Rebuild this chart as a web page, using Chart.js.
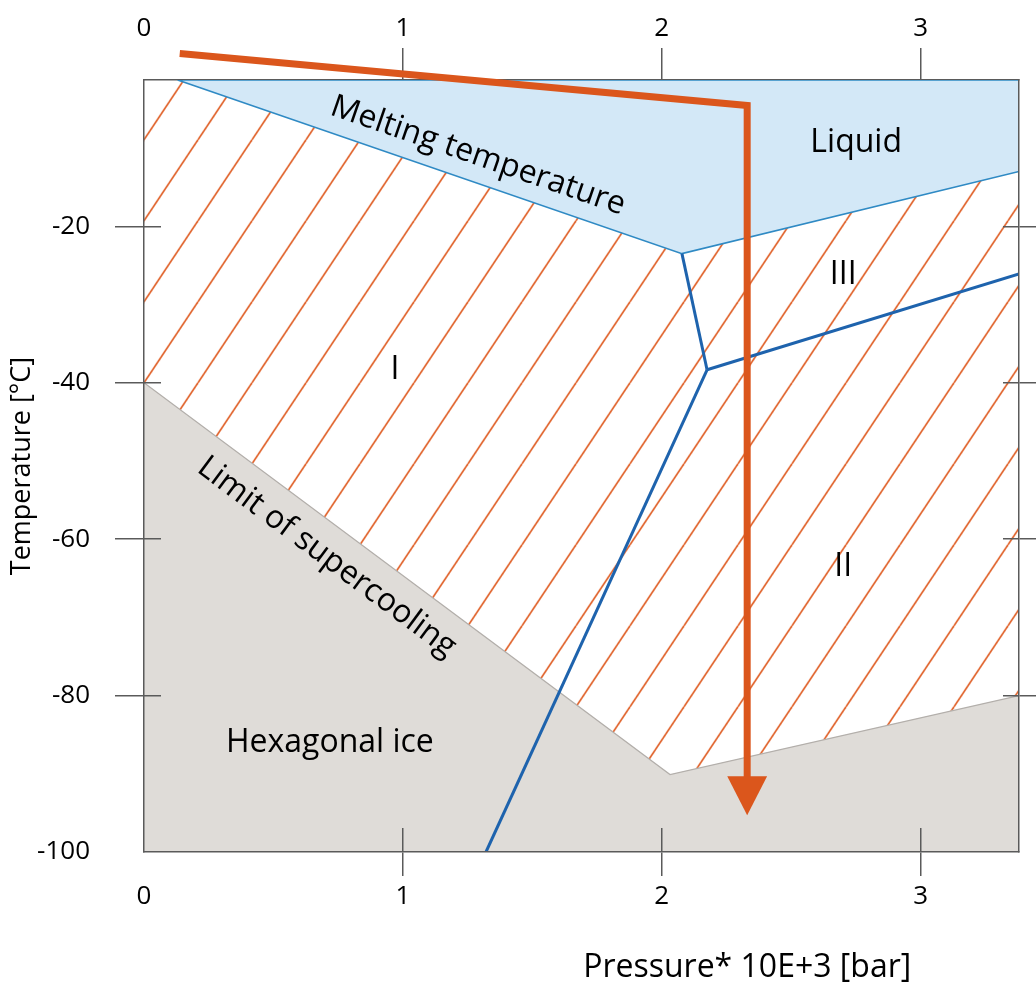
<!DOCTYPE html>
<html>
<head>
<meta charset="utf-8">
<title>Ice phase diagram</title>
<script src="https://cdn.jsdelivr.net/npm/chart.js@4.4.1/dist/chart.umd.min.js"></script>
<style>
  html, body { margin: 0; padding: 0; background: #fff; }
  #wrap { width: 1036px; height: 991px; position: relative; }
</style>
</head>
<body>
<div id="wrap"><canvas id="chart"></canvas></div>
<script>
// Ranges: pressure in 10^3 bar, temperature in °C
const pMin = 0, pMax = 3.38;
const tMin = -100, tMax = -1.3;
const pTicks = [0, 1, 2, 3];
const tTicks = [-100, -80, -60, -40, -20];

// Melting temperature (liquid / ice boundary)
const meltP = [0.13, 2.078, 3.38];
const meltT = [-1.3, -23.5, -13.0];

// Limit of supercooling (hexagonal ice boundary)
const superP = [0, 2.032, 3.38];
const superT = [-40, -90.1, -80];

// Boundaries between ice I, II and III
const iIIIP = [2.078, 2.175];
const iIIIT = [-23.5, -38.35];
const iiIIIP = [2.175, 3.38];
const iiIIIT = [-38.35, -26.1];
const iIIP = [2.175, 1.321];
const iIIT = [-38.35, -100];

// Orange path (compression then cooling) and its arrow head
const pathP = [0.138, 2.33, 2.33];
const pathT = [2.1, -4.55, -90.5];
const arrowP = [2.253, 2.407, 2.33];
const arrowT = [-90.3, -90.3, -95.3];

// Text labels in the diagram
const regionLabels = [
  { text: 'Liquid', p: 2.751, t: -9.3, angle: 0 },
  { text: 'III', p: 2.701, t: -26.2, angle: 0 },
  { text: 'I', p: 0.969, t: -38.35, angle: 0 },
  { text: 'II', p: 2.701, t: -63.6, angle: 0 },
  { text: 'Hexagonal ice', p: 0.718, t: -86.0, angle: 0 },
  { text: 'Melting temperature', p: 1.29, t: -11.0, angle: 19.0 },
  { text: 'Limit of supercooling', p: 0.706, t: -62.3, angle: 36.6 }
];

const fontFamily = "'Open Sans', 'Noto Sans', sans-serif";
const frameColor = '#5a5a5a';
const textColor = '#000000';
const hatchColor = '#e0622a';

function pts(xs, ys) {
  return xs.map(function(x, i) { return { x: x, y: ys[i] }; });
}

// Polygons built from the boundary arrays
const liquidPoly = pts(meltP, meltT).concat([{ x: pMax, y: tMax }, { x: meltP[0], y: meltT[0] }]);
const hexPoly = pts(superP, superT).concat([{ x: pMax, y: tMin }, { x: pMin, y: tMin }]);
const hatchPoly = [{ x: pMin, y: tMax }].concat(pts(meltP, meltT), pts(superP, superT).reverse());

// Diagonal hatching, anchored on the (0, -40) corner
function hatchPattern(chart) {
  const w = 54, h = 81;
  const c = document.createElement('canvas');
  c.width = w; c.height = h;
  const g = c.getContext('2d');
  g.strokeStyle = hatchColor;
  g.lineWidth = 1.7;
  [-w, 0, w].forEach(function(dx) {
    g.beginPath(); g.moveTo(dx, h); g.lineTo(dx + w, 0); g.stroke();
  });
  const pat = chart.ctx.createPattern(c, 'repeat');
  const xs = chart.scales.x, ys = chart.scales.y;
  const ox = xs.getPixelForValue(superP[0]);
  const oy = ys.getPixelForValue(superT[0]);
  if (isFinite(ox) && isFinite(oy)) {
    pat.setTransform(new DOMMatrix().translate(ox, oy));
  }
  return pat;
}

function tickColor(skip) {
  return function(ctx) {
    return (ctx.tick && ctx.tick.value === skip) ? 'rgba(0,0,0,0)' : frameColor;
  };
}

function align(px, width) {
  const half = width / 2;
  return Math.round(px - half) + half;
}

// Inner halves of the tick marks (ticks cross the frame)
const innerTicks = {
  id: 'innerTicks',
  afterDatasetsDraw(chart) {
    const { ctx, chartArea: a, scales } = chart;
    ctx.save();
    ctx.strokeStyle = frameColor;
    ctx.lineWidth = 1.5;
    ctx.beginPath();
    tTicks.forEach(function(t) {
      if (t === tMin) return;
      const py = align(scales.y.getPixelForValue(t), 1.5);
      ctx.moveTo(a.left, py); ctx.lineTo(a.left + 17, py);
      ctx.moveTo(a.right - 16, py); ctx.lineTo(a.right, py);
    });
    pTicks.forEach(function(p) {
      if (p === pMin) return;
      const px = align(scales.x.getPixelForValue(p), 1.5);
      ctx.moveTo(px, a.bottom); ctx.lineTo(px, a.bottom - 24);
    });
    ctx.stroke();
    ctx.restore();
  }
};

// Region names and the pressure axis title
const diagramText = {
  id: 'diagramText',
  afterDraw(chart) {
    const { ctx, scales } = chart;
    ctx.save();
    ctx.fillStyle = textColor;
    ctx.textAlign = 'center';
    ctx.textBaseline = 'middle';
    ctx.font = '32px ' + fontFamily;
    regionLabels.forEach(function(l) {
      ctx.save();
      ctx.translate(scales.x.getPixelForValue(l.p), scales.y.getPixelForValue(l.t));
      ctx.rotate(l.angle * Math.PI / 180);
      ctx.fillText(l.text, 0, 0);
      ctx.restore();
    });
    ctx.fillText('Pressure* 10E+3 [bar]', scales.x.getPixelForValue(2.33), chart.chartArea.bottom + 116);
    ctx.restore();
  }
};

function lineSet(data, color, width, extra) {
  return Object.assign({
    data: data,
    borderColor: color,
    borderWidth: width,
    backgroundColor: color,
    pointRadius: 0,
    pointHoverRadius: 0,
    tension: 0,
    fill: false
  }, extra || {});
}

const datasets = [
  lineSet(pts(arrowP, arrowT), '#db561c', 0, { fill: 'shape', backgroundColor: '#db561c' }),
  lineSet(pts(pathP, pathT), '#db561c', 7, { clip: false, borderJoinStyle: 'miter' }),
  lineSet(pts(iIIIP, iIIIT), '#1e63ad', 3),
  lineSet(pts(iiIIIP, iiIIIT), '#1e63ad', 3),
  lineSet(pts(iIIP, iIIT), '#1e63ad', 3),
  lineSet(liquidPoly, '#2f8ac4', 1.6, { fill: 'shape', backgroundColor: '#d3e8f7' }),
  lineSet(pts(superP, superT), '#b3afab', 1.2),
  lineSet(hexPoly, '#dfdcd8', 0, { fill: 'shape', backgroundColor: '#dfdcd8' }),
  lineSet(hatchPoly, hatchColor, 0, {
    fill: 'shape',
    backgroundColor: function(ctx) { return hatchPattern(ctx.chart); }
  })
];

const tickFont = { family: fontFamily, size: 26 };

new Chart(document.getElementById('chart'), {
  type: 'line',
  data: { datasets: datasets },
  options: {
    responsive: true,
    maintainAspectRatio: false,
    animation: false,
    events: [],
    layout: { padding: 0 },
    plugins: {
      legend: { display: false },
      tooltip: { enabled: false }
    },
    scales: {
      x: {
        type: 'linear', position: 'bottom', min: pMin, max: pMax,
        afterFit: function(s) { s.height = 139; },
        afterBuildTicks: function(s) { s.ticks = pTicks.map(function(v) { return { value: v }; }); },
        ticks: { font: tickFont, color: textColor, padding: 5, maxRotation: 0, autoSkip: false },
        grid: { drawOnChartArea: false, tickLength: 24, color: tickColor(pMin), lineWidth: 1.5 },
        border: { color: frameColor, width: 1.5, z: 1 }
      },
      x2: {
        type: 'linear', position: 'top', min: pMin, max: pMax,
        afterFit: function(s) { s.height = 80; },
        afterBuildTicks: function(s) { s.ticks = pTicks.map(function(v) { return { value: v }; }); },
        ticks: { font: tickFont, color: textColor, padding: 4, maxRotation: 0, autoSkip: false },
        grid: { drawOnChartArea: false, tickLength: 32, color: tickColor(pMin), lineWidth: 1.5 },
        border: { color: frameColor, width: 1.5, z: 0 }
      },
      y: {
        type: 'linear', position: 'left', min: tMin, max: tMax,
        afterFit: function(s) { s.width = 144; },
        afterBuildTicks: function(s) { s.ticks = tTicks.map(function(v) { return { value: v }; }); },
        ticks: { font: tickFont, color: textColor, padding: 25, autoSkip: false },
        grid: { drawOnChartArea: false, tickLength: 29, color: tickColor(tMin), lineWidth: 1.5 },
        border: { color: frameColor, width: 1.5, z: 1 },
        title: {
          display: true,
          text: 'Temperature [°C]',
          color: textColor,
          font: { family: fontFamily, size: 27 },
          padding: { top: 6, bottom: 0 }
        }
      },
      y2: {
        type: 'linear', position: 'right', min: tMin, max: tMax,
        afterFit: function(s) { s.width = 17; },
        afterBuildTicks: function(s) { s.ticks = tTicks.map(function(v) { return { value: v }; }); },
        ticks: { display: false },
        grid: { drawOnChartArea: false, tickLength: 17, color: tickColor(tMin), lineWidth: 1.5 },
        border: { color: frameColor, width: 1.5, z: 1 }
      }
    }
  },
  plugins: [innerTicks, diagramText]
});
</script>
</body>
</html>
